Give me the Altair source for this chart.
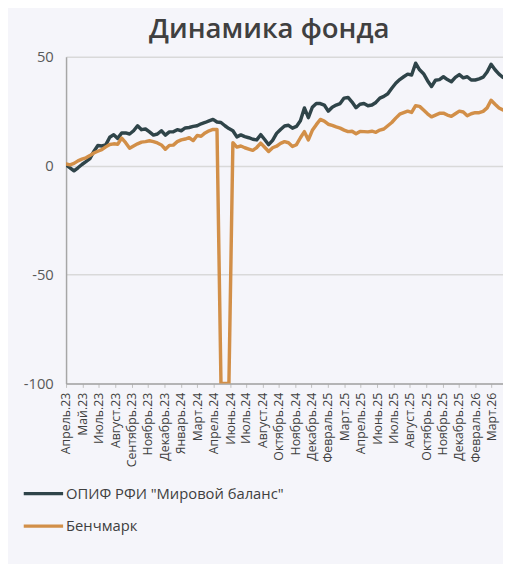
import altair as alt
import pandas as pd

# ---------------- data ----------------
start_date = "2023-04-16"
end_date = "2026-04-20"
n_points = 111  # one reading every 10 days

fund = [
    0.3, -1.0, -2.4, -1.0, 0.5, 1.8, 3.2, 6.5, 9.2, 9.0,
    9.5, 13.0, 14.2, 12.5, 15.0, 15.0, 14.5, 16.0, 18.3, 16.5,
    16.8, 15.5, 14.0, 14.5, 16.0, 14.0, 15.5, 15.5, 16.5, 16.0,
    17.3, 17.5, 18.0, 18.3, 19.2, 19.8, 20.5, 21.2, 20.0, 19.8,
    18.3, 17.0, 16.0, 13.2, 14.1, 13.3, 12.8, 12.1, 11.8, 14.2,
    12.0, 9.6, 11.6, 14.8, 16.6, 18.2, 18.5, 17.2, 18.0, 20.6,
    26.5, 22.0, 26.8, 28.5, 28.5, 27.8, 25.0, 26.8, 27.8, 28.5,
    31.0, 31.3, 29.2, 26.6, 28.2, 28.5, 27.5, 27.8, 29.0, 31.0,
    31.8, 33.0, 35.5, 37.8, 39.5, 40.8, 42.0, 41.6, 47.0, 44.0,
    42.2, 39.0, 36.3, 39.2, 39.5, 40.8, 39.5, 38.5, 40.5, 41.8,
    40.3, 40.8, 39.3, 39.3, 39.8, 40.6, 43.0, 46.5, 44.0, 42.0,
    40.5,
]

bench = [
    0.8, 0.3, 1.0, 2.2, 3.0, 3.6, 4.6, 5.8, 6.6, 7.3,
    8.6, 9.7, 10.0, 9.8, 12.6, 10.5, 8.0, 9.0, 10.0, 10.8,
    11.0, 11.4, 11.0, 10.4, 9.5, 7.5, 9.3, 9.4, 11.0, 11.8,
    12.2, 12.8, 11.5, 13.8, 13.5, 15.0, 16.0, 16.6, 16.6, -100.0,
    -100.0, -100.0, 10.5, 8.5, 9.0, 8.2, 7.6, 7.0, 8.3, 10.3,
    8.4, 6.5, 8.2, 8.9, 10.2, 11.0, 10.5, 8.8, 9.6, 12.8,
    15.6, 11.8, 16.2, 18.8, 21.2, 20.4, 19.0, 18.5, 17.8, 17.2,
    16.3, 15.6, 15.8, 14.6, 15.7, 15.6, 15.5, 15.8, 15.3, 16.3,
    16.8, 18.3, 19.8, 21.8, 23.6, 24.3, 25.0, 24.4, 27.5, 27.2,
    25.5, 23.8, 22.4, 23.2, 24.0, 24.1, 23.2, 22.6, 23.8, 25.0,
    24.6, 22.9, 23.8, 24.3, 24.3, 24.9, 26.5, 30.0, 28.2, 26.5,
    25.5,
]

series_names = ['ОПИФ РФИ "Мировой баланс"', "Бенчмарк"]
series_colors = ["#2f4449", "#d28f48"]

tick_dates = [
    "2023-04-16", "2023-05-27", "2023-07-07", "2023-08-18", "2023-09-28",
    "2023-11-08", "2023-12-19", "2024-01-30", "2024-03-11", "2024-04-21",
    "2024-06-02", "2024-07-12", "2024-08-23", "2024-10-03", "2024-11-13",
    "2024-12-24", "2025-02-03", "2025-03-17", "2025-04-27", "2025-06-07",
    "2025-07-18", "2025-08-28", "2025-10-09", "2025-11-19", "2025-12-29",
    "2026-02-09", "2026-03-22",
]
month_names = ["Январь", "Февраль", "Март", "Апрель", "Май", "Июнь", "Июль",
               "Август", "Сентябрь", "Октябрь", "Ноябрь", "Декабрь"]
y_ticks = [-100, -50, 0, 50]

dates = pd.date_range(start_date, periods=n_points, freq="10D").strftime("%Y-%m-%d").tolist()
df = pd.DataFrame({
    "date": dates + dates,
    "value": fund + bench,
    "series": [series_names[0]] * n_points + [series_names[1]] * n_points,
})


def dt(s):
    y, m, d = (int(p) for p in s.split("-"))
    return alt.DateTime(year=y, month=m, date=d, utc=True)


month_js = "[" + ",".join("'%s'" % m for m in month_names) + "]"
label_expr = month_js + "[utcmonth(datum.value)] + '.' + utcFormat(datum.value, '%y')"

FONT = "Open Sans"

chart = (
    alt.Chart(df)
    .mark_line(strokeWidth=3.5, strokeJoin="round", strokeCap="round", clip=True)
    .encode(
        x=alt.X(
            "date:T",
            scale=alt.Scale(type="utc", domain=[dt(start_date), dt(end_date)]),
            axis=alt.Axis(
                title=None,
                values=[dt(s) for s in tick_dates],
                labelExpr=label_expr,
                labelAngle=-90,
                labelFontSize=12.5,
                labelColor="#404040",
                labelFont=FONT,
                labelPadding=5,
                labelOverlap=False,
                labelBound=False,
                labelFlush=False,
                grid=False,
                domainColor="#a6a6a6",
                domainWidth=1.5,
                tickColor="#bfbfbf",
                tickSize=4,
                tickWidth=1,
            ),
        ),
        y=alt.Y(
            "value:Q",
            scale=alt.Scale(domain=[-100, 50], nice=False, zero=False),
            axis=alt.Axis(
                title=None,
                values=y_ticks,
                labelExpr="'' + datum.value",
                labelFontSize=15,
                labelColor="#595959",
                labelFont=FONT,
                labelPadding=13,
                ticks=False,
                grid=True,
                gridColor="#d9d9d9",
                gridWidth=1.5,
                domainColor="#a6a6a6",
                domainWidth=1.5,
            ),
        ),
        color=alt.Color(
            "series:N",
            title=None,
            scale=alt.Scale(domain=series_names, range=series_colors),
            legend=alt.Legend(
                orient="none",
                legendX=-45,
                legendY=422,
                direction="vertical",
                symbolType="stroke",
                symbolSize=1600,
                symbolStrokeWidth=3.5,
                labelFontSize=15,
                labelFont=FONT,
                labelColor="#404040",
                labelOffset=1,
                labelLimit=400,
                rowPadding=3,
                padding=0,
            ),
        ),
        detail="series:N",
    )
    .properties(
        width=444,
        height=332,
        padding={"left": 59, "top": 45, "right": 0, "bottom": 179},
        autosize=alt.AutoSizeParams(type="none"),
        title=alt.Title(
            "Динамика фонда",
            font=FONT,
            fontSize=28,
            fontWeight=600,
            color="#404040",
            anchor="middle",
            frame="bounds",
            baseline="alphabetic",
            offset=-16,
            dx=7,
        ),
        background="#f5f5fa",
    )
    .configure_view(stroke=None)
)

chart.save("out.html", embed_options={"renderer": "svg", "actions": False})
